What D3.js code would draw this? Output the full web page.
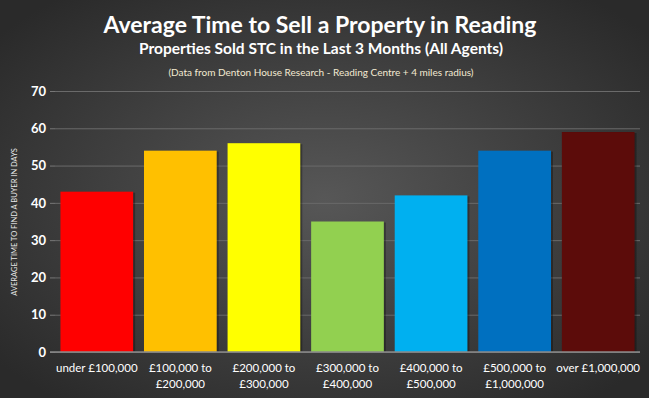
<!DOCTYPE html>
<html>
<head>
<meta charset="utf-8">
<script src="https://cdn.jsdelivr.net/npm/d3@7"></script>
<style>
  body { margin: 0; background: #2e2e2e; }
  svg { display: block; font-family: Lato, "Open Sans", sans-serif; }
</style>
</head>
<body>
<script>
// chart data
var bands = ["under £100,000", "£100,000 to|£200,000", "£200,000 to|£300,000", "£300,000 to|£400,000",
             "£400,000 to|£500,000", "£500,000 to|£1,000,000", "over £1,000,000"];
var days = [43, 54, 56, 35, 42, 54, 59];
var barColors = ["#ff0000", "#ffc000", "#ffff00", "#92d050", "#00b0f0", "#0070c0", "#5c0c0a"];
var yTicks = [0, 10, 20, 30, 40, 50, 60, 70];

var W = 649, H = 398;
var margin = {top: 91, right: 9, bottom: 46, left: 55};

var svg = d3.select("body").append("svg")
    .attr("width", W)
    .attr("height", H);

var defs = svg.append("defs");
var grad = defs.append("radialGradient")
    .attr("id", "bg")
    .attr("cx", "50%").attr("cy", "50%").attr("r", "65%");
grad.append("stop").attr("offset", "0%").attr("stop-color", "#575757");
grad.append("stop").attr("offset", "100%").attr("stop-color", "#2a2a2a");

svg.append("rect")
    .attr("width", W).attr("height", H)
    .attr("fill", "url(#bg)");

// titles
svg.append("text")
    .attr("x", 320).attr("y", 33)
    .attr("text-anchor", "middle")
    .attr("fill", "#fff")
    .style("font-size", "23px").style("font-weight", "bold")
    .text("Average Time to Sell a Property in Reading");

svg.append("text")
    .attr("x", 321).attr("y", 54)
    .attr("text-anchor", "middle")
    .attr("fill", "#fff")
    .style("font-size", "15.5px").style("font-weight", "bold")
    .text("Properties Sold STC in the Last 3 Months (All Agents)");

svg.append("text")
    .attr("x", 321).attr("y", 76)
    .attr("text-anchor", "middle")
    .attr("fill", "#f3ead2")
    .style("font-size", "10px")
    .text("(Data from Denton House Research - Reading Centre + 4 miles radius)");

var width = W - margin.left - margin.right,
    height = 352 - margin.top;

var x = d3.scaleBand().domain(bands).range([0, width]).paddingInner(0.13).paddingOuter(0.065);
var y = d3.scaleLinear().domain([0, 70]).range([height, 0]);

var g = svg.append("g")
    .attr("transform", "translate(" + margin.left + "," + margin.top + ")");

// grid
var grid = g.append("g")
    .call(d3.axisLeft(y).tickValues(yTicks).tickSize(-width).tickFormat(""));
grid.select(".domain").remove();
grid.selectAll("line")
    .attr("stroke", "#6a6a6a")
    .attr("stroke-width", 1);

// bars with a slight shadow
g.selectAll(".shadow")
    .data(days)
    .enter().append("rect")
    .attr("class", "shadow")
    .attr("x", function (d, i) { return x(bands[i]) + 2; })
    .attr("y", function (d) { return y(d) + 1; })
    .attr("width", x.bandwidth())
    .attr("height", function (d) { return height - y(d) - 1; })
    .attr("fill", "#000")
    .attr("opacity", 0.3);

g.selectAll(".bar")
    .data(days)
    .enter().append("rect")
    .attr("class", "bar")
    .attr("x", function (d, i) { return x(bands[i]); })
    .attr("y", function (d) { return y(d); })
    .attr("width", x.bandwidth())
    .attr("height", function (d) { return height - y(d); })
    .attr("fill", function (d, i) { return barColors[i]; });

// y axis
var yAxis = g.append("g")
    .call(d3.axisLeft(y).tickValues(yTicks).tickSize(5).tickPadding(4));
yAxis.select(".domain").remove();
yAxis.selectAll("line").attr("stroke", "#777");
yAxis.selectAll("text")
    .attr("fill", "#fff")
    .style("font-size", "13px").style("font-weight", "bold")
    .style("font-family", "Lato, sans-serif");

// baseline
g.append("line")
    .attr("x1", -5).attr("x2", width)
    .attr("y1", height).attr("y2", height)
    .attr("stroke", "#8a8a8a")
    .attr("stroke-width", 1.5);

// x labels
var xl = g.append("g").selectAll("text")
    .data(bands)
    .enter().append("text")
    .attr("text-anchor", "middle")
    .attr("fill", "#fff")
    .style("font-size", "11.5px")
    .attr("transform", function (d) { return "translate(" + (x(d) + x.bandwidth() / 2) + "," + (height + 20) + ")"; });

xl.selectAll("tspan")
    .data(function (d) { return d.split("|"); })
    .enter().append("tspan")
    .attr("x", 0)
    .attr("dy", function (d, i) { return i ? 16 : 0; })
    .text(function (d) { return d; });

// y axis title
svg.append("text")
    .attr("transform", "translate(17,222) rotate(-90)")
    .attr("text-anchor", "middle")
    .attr("fill", "#e8e8e8")
    .style("font-size", "7.5px")
    .text("AVERAGE TIME TO FIND A BUYER IN DAYS");
</script>
</body>
</html>
